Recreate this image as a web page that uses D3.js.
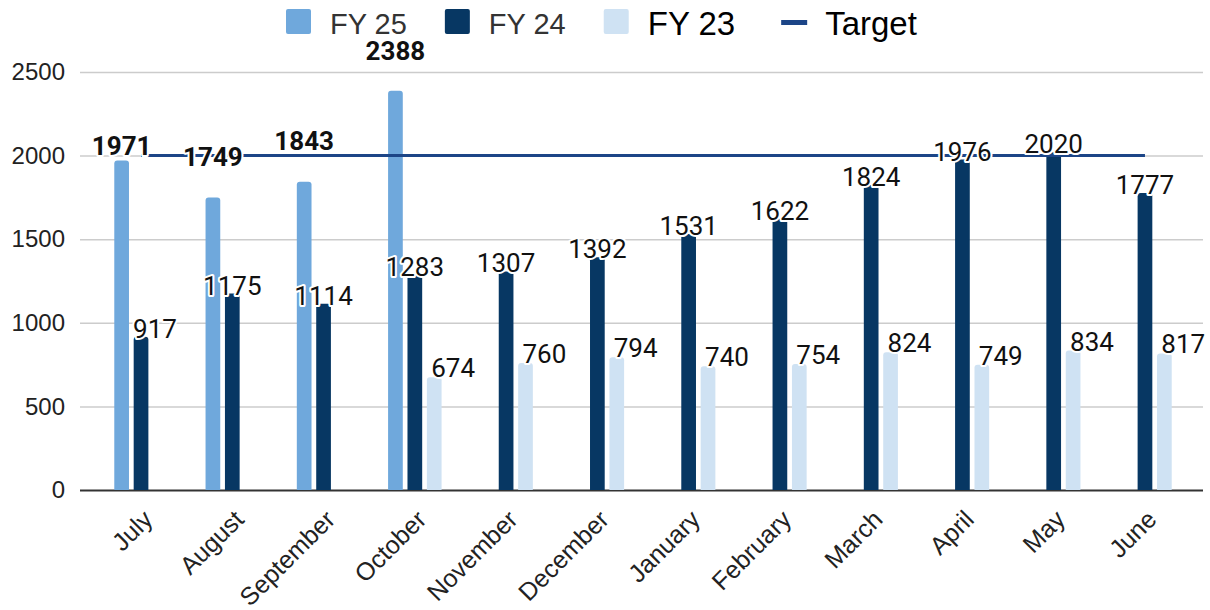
<!DOCTYPE html>
<html>
<head>
<meta charset="utf-8">
<script src="https://cdn.jsdelivr.net/npm/d3@7"></script>
<style>
    body { margin: 0; background: #fff; }
    svg { display: block; }
</style>
</head>
<body>
<svg id="chart" width="1210" height="610"></svg>
<script>
const months = ["July", "August", "September", "October", "November", "December",
    "January", "February", "March", "April", "May", "June"];
const fy25 = [1971, 1749, 1843, 2388, null, null, null, null, null, null, null, null];
const fy24 = [917, 1175, 1114, 1283, 1307, 1392, 1531, 1622, 1824, 1976, 2020, 1777];
const fy23 = [null, null, null, 674, 760, 794, 740, 754, 824, 749, 834, 817];
const target = [2000, 2000, 2000, 2000, 2000, 2000, 2000, 2000, 2000, 2000, 2000, 2000];
const yTicks = [0, 500, 1000, 1500, 2000, 2500];
const seriesNames = ["FY 25", "FY 24", "FY 23"];
const targetName = "Target";

const colors = {
    "FY 25": "#6fa8dc",
    "FY 24": "#073763",
    "FY 23": "#cfe2f3",
    "Target": "#1c4587"
};

let svg = d3.select("#chart");

let gridLeft = 80, gridRight = 1203;
let x0 = d3.scaleBand().domain(months).range([95.4, 1190.6]).padding(0);
let x1 = d3.scaleBand().domain(seriesNames).range([-26.75, 26.75]).paddingInner(0.242);
let y = d3.scaleLinear().domain([0, 2500]).range([490, 72]);

let center = m => x0(m) + x0.bandwidth() / 2;

// gridlines + y labels
let yAxis = svg.append("g")
    .attr("transform", `translate(${gridLeft},0)`)
    .call(d3.axisLeft(y).tickValues(yTicks).tickFormat(d3.format("d"))
        .tickSize(-(gridRight - gridLeft)).tickPadding(15));
yAxis.select(".domain").remove();
yAxis.selectAll(".tick line")
    .attr("stroke", d => d === 0 ? "#333" : "#ccc")
    .attr("stroke-width", d => d === 0 ? 2 : 1.5);
yAxis.selectAll(".tick text")
    .style("font-family", "'Liberation Sans', Arial, sans-serif")
    .style("font-size", "24px")
    .attr("fill", "#222");

// x labels
let xAxis = svg.append("g")
    .attr("transform", `translate(0,${y(0)})`)
    .call(d3.axisBottom(x0).tickSize(0));
xAxis.select(".domain").remove();
xAxis.selectAll(".tick text")
    .attr("x", 0).attr("y", 0).attr("dy", null)
    .attr("transform", "translate(13,31) rotate(-45)")
    .style("text-anchor", "end")
    .style("font-family", "'Liberation Sans', Arial, sans-serif")
    .style("font-size", "25px")
    .attr("fill", "#222");

let rows = [];
[fy25, fy24, fy23].forEach((vals, si) => {
    vals.forEach((v, i) => {
        if (v !== null) rows.push({ series: seriesNames[si], month: months[i], value: v });
    });
});

function topRounded(x, yTop, w, h, r) {
    r = Math.min(r, h, w / 2);
    return `M${x},${yTop + h}V${yTop + r}Q${x},${yTop} ${x + r},${yTop}` +
        `H${x + w - r}Q${x + w},${yTop} ${x + w},${yTop + r}V${yTop + h}Z`;
}

svg.append("g").attr("class", "bars")
    .selectAll("path")
    .data(rows)
    .enter().append("path")
    .attr("d", d => {
        let bx = center(d.month) + x1(d.series);
        return topRounded(bx, y(d.value), x1.bandwidth(), y(0) - y(d.value), 3);
    })
    .attr("fill", d => colors[d.series]);

// target line
let line = d3.line()
    .x((d, i) => center(months[i]))
    .y(d => y(d));
svg.append("path")
    .datum(target)
    .attr("d", line)
    .attr("fill", "none")
    .attr("stroke", colors.Target)
    .attr("stroke-width", 3);

// data labels
let labelStyle = {
    "FY 25": { anchor: "middle", dx: 0, dy: -32, weight: "bold" },
    "FY 24": { anchor: "middle", dx: 0, dy: 1, weight: "normal" },
    "FY 23": { anchor: "start", dx: -3, dy: 0, weight: "normal" }
};
let nudges = {
    "FY 25|July": { dy: -5 },
    "FY 25|October": { dy: -31 },
    "FY 24|July": { dx: 14 }
};

svg.append("g").attr("class", "labels")
    .selectAll("text")
    .data(rows)
    .enter().append("text")
    .attr("x", d => {
        let st = labelStyle[d.series];
        let n = nudges[d.series + "|" + d.month] || {};
        let cx = center(d.month) + x1(d.series) + x1.bandwidth() / 2;
        return cx + (n.dx !== undefined ? n.dx : st.dx);
    })
    .attr("y", d => {
        let st = labelStyle[d.series];
        let n = nudges[d.series + "|" + d.month] || {};
        return y(d.value) + (n.dy !== undefined ? n.dy : st.dy);
    })
    .attr("text-anchor", d => labelStyle[d.series].anchor)
    .style("font-family", "Roboto, sans-serif")
    .style("font-size", "26px")
    .style("font-weight", d => labelStyle[d.series].weight)
    .attr("fill", "#111")
    .attr("stroke", "#fff")
    .attr("stroke-width", 4)
    .attr("stroke-linejoin", "round")
    .attr("paint-order", "stroke")
    .text(d => d.value);

// legend
let legendItems = [
    { name: "FY 25", type: "box", size: 29, color: "#333", gap: 38 },
    { name: "FY 24", type: "box", size: 29, color: "#333", gap: 38 },
    { name: "FY 23", type: "box", size: 33, color: "#000", gap: 46 },
    { name: targetName, type: "line", size: 33, color: "#000", gap: 0 }
];
let legend = svg.append("g").attr("class", "legend");
let lx = 286;
legendItems.forEach(item => {
    let g = legend.append("g").attr("transform", `translate(${lx},0)`);
    if (item.type === "box") {
        g.append("rect")
            .attr("x", 0).attr("y", 9)
            .attr("width", 25).attr("height", 25)
            .attr("rx", 2)
            .attr("fill", colors[item.name]);
    } else {
        g.append("rect")
            .attr("x", 0).attr("y", 20)
            .attr("width", 26).attr("height", 5)
            .attr("fill", colors[item.name]);
    }
    let t = g.append("text")
        .attr("x", 44)
        .attr("y", item.size > 30 ? 34.5 : 33.5)
        .style("font-family", "'Liberation Sans', Arial, sans-serif")
        .style("font-size", item.size + "px")
        .attr("fill", item.color)
        .text(item.name);
    lx += 44 + t.node().getComputedTextLength() + item.gap;
});
</script>
</body>
</html>
